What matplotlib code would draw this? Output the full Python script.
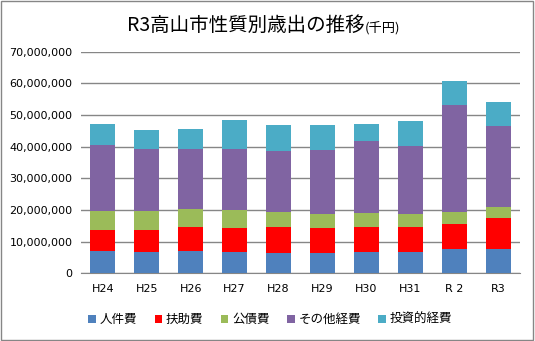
import numpy as np
import matplotlib
matplotlib.use("Agg")
import matplotlib.pyplot as plt
from matplotlib.patches import Rectangle
from matplotlib.ticker import FuncFormatter

plt.rcParams['font.family'] = ['Noto Sans CJK JP', 'DejaVu Sans']

# 年度
years = ['H24', 'H25', 'H26', 'H27', 'H28', 'H29', 'H30', 'H31', 'R 2', 'R3']

# 性質別歳出（千円）
personnel = [7000000, 6700000, 7000000, 6700000, 6400000, 6400000, 6700000, 6700000, 7700000, 7700000]
assistance = [6700000, 7000000, 7700000, 7700000, 8300000, 7900000, 7900000, 7900000, 7900000, 9800000]
debt = [6100000, 6100000, 5700000, 5700000, 4800000, 4400000, 4400000, 4100000, 3800000, 3500000]
other = [20700000, 19500000, 18900000, 19200000, 19200000, 20300000, 22800000, 21500000, 33800000, 25500000]
invest = [6700000, 6000000, 6300000, 9100000, 8100000, 7800000, 5300000, 7900000, 7600000, 7600000]

series = [
    ('人件費', personnel, '#4F81BD'),
    ('扶助費', assistance, '#FF0000'),
    ('公債費', debt, '#9BBB59'),
    ('その他経費', other, '#8064A2'),
    ('投資的経費', invest, '#4BACC6'),
]

fig = plt.figure(figsize=(5.35, 3.41), dpi=100)
ax = fig.add_axes([0.1514, 0.1985, 0.8206, 0.6499])

x = np.arange(len(years))
bottom = np.zeros(len(years))
for name, vals, color in series:
    ax.bar(x, vals, width=0.57, bottom=bottom, color=color, label=name, zorder=3)
    bottom += np.array(vals)

ax.set_xlim(-0.5, len(years) - 0.5)
ax.set_ylim(0, 70000000)
ax.set_yticks(np.arange(0, 70000001, 10000000))
ax.yaxis.set_major_formatter(FuncFormatter(lambda v, p: f"{int(v):,}"))
ax.set_xticks(x)
ax.set_xticklabels(years)
ax.grid(axis='y', color='#868686', linewidth=1, zorder=0)
for s in ['top', 'right', 'left']:
    ax.spines[s].set_visible(False)
ax.spines['bottom'].set_color('#868686')
ax.tick_params(axis='both', length=0, labelsize=8, colors='black')
ax.tick_params(axis='y', pad=6)
ax.tick_params(axis='x', pad=8)
for lab in ax.get_yticklabels() + ax.get_xticklabels():
    lab.set_family('DejaVu Sans')

fig.legend(loc='center', bbox_to_anchor=(0.505, 0.062), ncol=5, frameon=False,
           fontsize=9, handlelength=0.6, handleheight=0.6, handletextpad=0.3,
           columnspacing=1.4)

# タイトル（単位部分は小さめ）
t1 = fig.text(127 / 535, 0.925, 'R3高山市性質別歳出の推移', fontsize=14,
              ha='left', va='center')
r = fig.canvas.get_renderer()
bb = t1.get_window_extent(renderer=r)
fig.text(bb.x1 / fig.bbox.width, 0.918, '(千円)', fontsize=9.5, ha='left', va='center')

fig.add_artist(Rectangle((0.002, 0.003), 0.994, 0.994, transform=fig.transFigure,
                         fill=False, edgecolor='#868686', linewidth=1))

fig.savefig('out.png', dpi=100)
